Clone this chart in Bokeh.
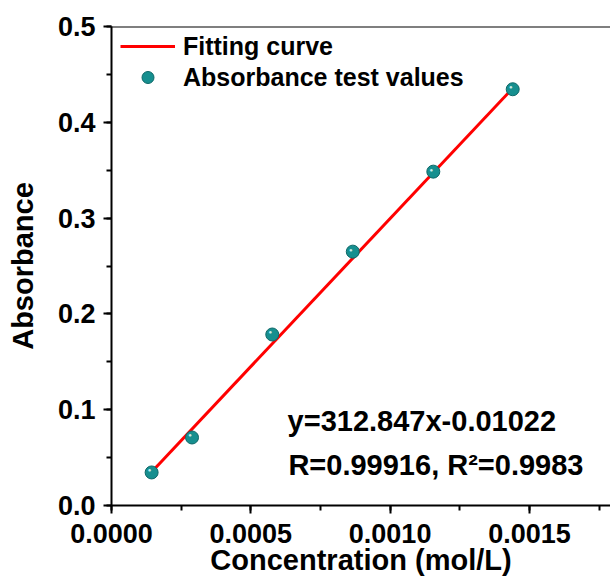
from bokeh.plotting import figure
from bokeh.models import (Range1d, SingleIntervalTicker, PrintfTickFormatter, Label,
                          Span, Legend, LegendItem)
from bokeh.embed import file_html
from bokeh.resources import INLINE

# data
conc = [0.000144, 0.000289, 0.000577, 0.000866, 0.001155, 0.001440]
absorb = [0.0345, 0.0710, 0.1785, 0.2650, 0.3485, 0.4345]
fit_x = [0.000144, 0.001440]
fit_y = [0.0350, 0.4355]
eq_text = "y=312.847x-0.01022"
r_text = "R=0.99916, R\u00b2=0.9983"
x_label = "Concentration (mol/L)"
y_label = "Absorbance"
legend_labels = ["Fitting curve", "Absorbance test values"]

FONT = "Liberation Sans"

p = figure(width=610, height=578, output_backend="svg", toolbar_location=None,
           x_range=Range1d(0, 0.001791), y_range=Range1d(0, 0.5),
           min_border_left=111, min_border_top=26, min_border_bottom=73, min_border_right=0)
p.outline_line_color = None
p.grid.visible = False
p.background_fill_color = "white"
p.border_fill_color = "white"

line_r = p.line(fit_x, fit_y, line_color="#ff0000", line_width=3)
pts_r = p.scatter(conc, absorb, size=13, fill_color="#168f8f", line_color="#0d6868", line_width=1)
p.text(conc, absorb, text=["\u25cf"] * len(conc), text_font_size="6px", text_color="#c8ecec",
       text_align="center", text_baseline="middle", x_offset=-2, y_offset=-2)

p.add_layout(Span(location=0.5, dimension="width", line_color="black", line_width=2))

for ax in (p.xaxis[0], p.yaxis[0]):
    ax.axis_line_width = 2
    ax.major_tick_line_width = 2
    ax.minor_tick_line_width = 2
    ax.major_tick_in = 0
    ax.major_tick_out = 8
    ax.minor_tick_in = 0
    ax.minor_tick_out = 5
    ax.major_label_text_font = FONT
    ax.major_label_text_font_style = "bold"
    ax.major_label_text_font_size = "27px"
    ax.major_label_text_color = "black"
    ax.axis_label_text_font = FONT
    ax.axis_label_text_font_style = "bold"
    ax.axis_label_text_font_size = "29px"
    ax.axis_label_text_color = "black"

p.xaxis[0].ticker = SingleIntervalTicker(interval=0.0005, num_minor_ticks=2)
p.yaxis[0].ticker = SingleIntervalTicker(interval=0.1, num_minor_ticks=2)
p.xaxis[0].formatter = PrintfTickFormatter(format="%.4f")
p.yaxis[0].formatter = PrintfTickFormatter(format="%.1f")
p.xaxis[0].axis_label = x_label
p.yaxis[0].axis_label = y_label
p.xaxis[0].major_label_standoff = 10
p.yaxis[0].major_label_standoff = 8
p.xaxis[0].axis_label_standoff = -2
p.yaxis[0].axis_label_standoff = 16

legend = Legend(items=[LegendItem(label=legend_labels[0], renderers=[line_r]),
                       LegendItem(label=legend_labels[1], renderers=[pts_r])],
                location=(9, 413), padding=0, spacing=1, glyph_width=55, glyph_height=30,
                label_height=30, label_standoff=8, border_line_color=None,
                background_fill_alpha=0, label_text_font=FONT, label_text_font_style="bold",
                label_text_font_size="25px", label_text_color="black")
p.add_layout(legend)

p.add_layout(Label(x=0.000632, y=0.0887, text=eq_text, text_font=FONT, text_font_style="bold",
                   text_font_size="29px", text_baseline="middle", text_color="black"))
p.add_layout(Label(x=0.000635, y=0.0418, text=r_text, text_font=FONT, text_font_style="bold",
                   text_font_size="29px", text_baseline="middle", text_color="black"))

open("out.html", "w").write(file_html(p, INLINE))
